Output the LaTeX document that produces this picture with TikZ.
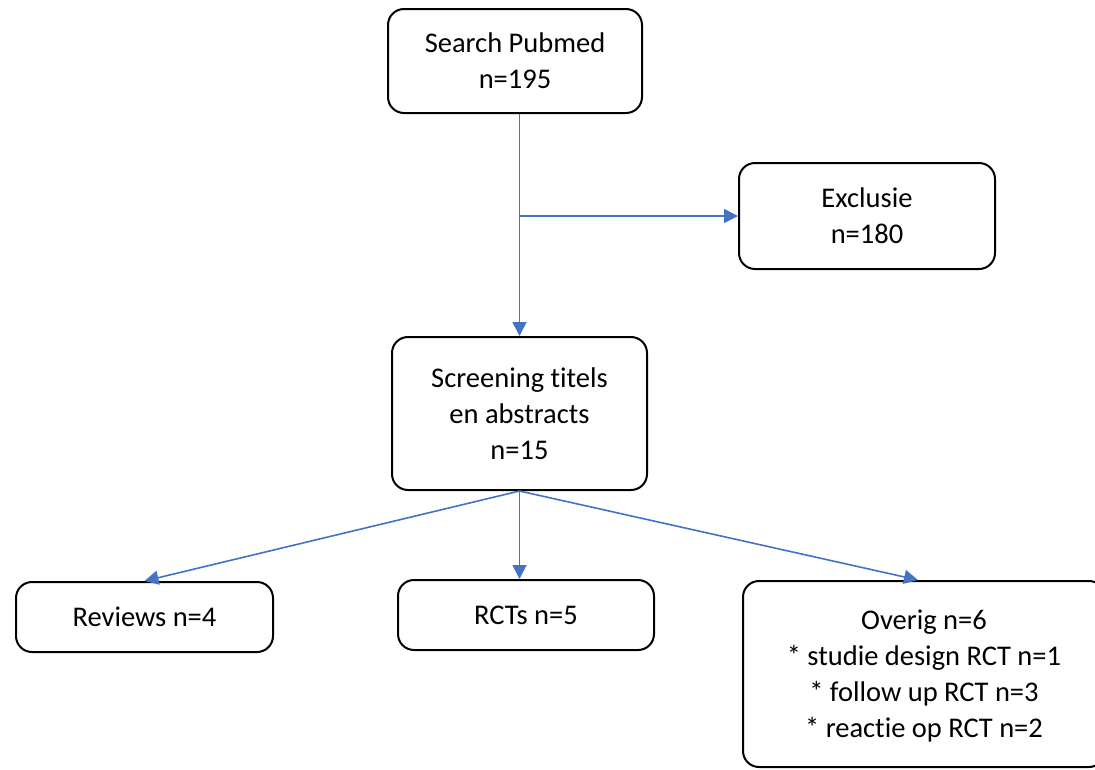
\documentclass[tikz,border=0pt]{standalone}
\usepackage{fontspec}
\setmainfont{Carlito}[Ligatures={NoCommon,NoContextual}]
\usetikzlibrary{arrows.meta,calc}
\definecolor{linkblue}{HTML}{4472C4}
\tikzset{
  box/.style={draw=black, line width=2pt, rounded corners=16pt, align=center,
    font=\fontsize{28.5}{36}\selectfont, inner sep=0pt, fill=white},
  link/.style={draw=linkblue, line width=1.6pt, -{Triangle[length=14pt,width=14pt]}}
}
\begin{document}
\begin{tikzpicture}[x=1pt,y=-1pt]
\useasboundingbox (0,0) rectangle (1095,769);
\fill[white] (0,0) rectangle (1095,769);
\clip (0,0) rectangle (1095,769);
\node[box, minimum width=254pt, minimum height=104pt] (s) at (515,61) {Search Pubmed\\n=195};
\node[box, minimum width=256pt, minimum height=106pt] (ex) at (867,216) {Exclusie\\n=180};
\node[box, minimum width=255pt, minimum height=153pt] (sc) at (519.5,413.5) {Screening t\kern0pt itels\\en abstracts\\n=15};
\node[box, minimum width=257pt, minimum height=70pt] (rv) at (144.5,617) {Reviews n=4};
\node[box, minimum width=362pt, minimum height=186pt, text depth=0pt] (ov) at (924,674)
  {Overig n=6\\* studie design RCT n=1\\* follow up RCT n=3\\* react\kern0pt ie op RCT n=2};
\node[box, minimum width=256pt, minimum height=70pt] (rc) at (526,615) {RCTs n=5};
\coordinate (br) at (sc.north |- ex.west);
\draw[link] (s.south -| sc.north) -- (sc.north);
\draw[link] (br) -- (ex.west);
\draw[link] (sc.south) -- (rv.north);
\draw[link] (sc.south) -- (sc.south |- rc.north);
\draw[link] (sc.south) -- ($(ov.north)+(-6,0)$);
\end{tikzpicture}
\end{document}
